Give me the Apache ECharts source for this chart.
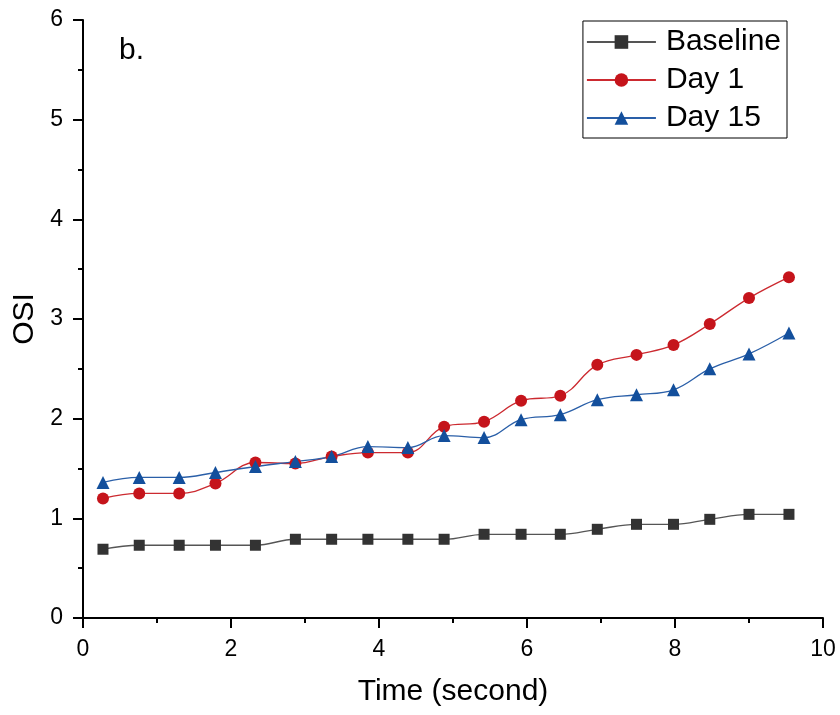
<!DOCTYPE html>
<html>
<head>
<meta charset="utf-8">
<script src="https://cdn.jsdelivr.net/npm/echarts@6/dist/echarts.min.js"></script>
<style>
  html, body { margin: 0; padding: 0; background: #fff; }
  #main { width: 840px; height: 715px; }
</style>
</head>
<body>
<div id="main"></div>
<script>
// time points (seconds), shared by all three series
var times = [0.27, 0.76, 1.30, 1.79, 2.33, 2.87, 3.36, 3.85, 4.39, 4.88,
             5.42, 5.92, 6.45, 6.95, 7.48, 7.98, 8.47, 9.00, 9.54];
var baseline = [0.69, 0.73, 0.73, 0.73, 0.73, 0.79, 0.79, 0.79, 0.79, 0.79,
                0.84, 0.84, 0.84, 0.89, 0.94, 0.94, 0.99, 1.04, 1.04];
var day1 = [1.20, 1.25, 1.25, 1.35, 1.56, 1.55, 1.62, 1.66, 1.66, 1.92,
            1.97, 2.18, 2.23, 2.54, 2.64, 2.74, 2.95, 3.21, 3.42];
var day15 = [1.36, 1.41, 1.41, 1.46, 1.52, 1.57, 1.62, 1.72, 1.71, 1.83,
             1.81, 1.99, 2.04, 2.19, 2.24, 2.29, 2.50, 2.65, 2.86];

function pairs(ys) {
  return times.map(function (t, i) { return [t, ys[i]]; });
}

var FONT = 'Liberation Sans, Arial, sans-serif';

var chartDom = document.getElementById('main');
var myChart = echarts.init(chartDom);

function axisCommon() {
  return {
    type: 'value',
    axisLine: { show: true, lineStyle: { color: '#000', width: 2 } },
    axisTick: { show: true, inside: false, length: 10, lineStyle: { color: '#000', width: 2 } },
    minorTick: { show: true, splitNumber: 2, length: 5, lineStyle: { color: '#000', width: 2 } },
    splitLine: { show: false },
    minorSplitLine: { show: false },
    nameTextStyle: { fontFamily: FONT, fontSize: 30, color: '#000' }
  };
}

var xAxis = axisCommon();
Object.assign(xAxis, {
  min: 0, max: 10, interval: 2,
  name: 'Time (second)', nameLocation: 'middle', nameGap: 59,
  axisLabel: { fontFamily: FONT, fontSize: 23, color: '#000', margin: 20 }
});

var yAxis = axisCommon();
Object.assign(yAxis, {
  min: 0, max: 6, interval: 1,
  name: 'OSI', nameLocation: 'middle', nameGap: 36,
  axisLabel: { fontFamily: FONT, fontSize: 23, color: '#000', margin: 20 }
});

function lineSeries(name, ys, color, lineColor, symbol, size) {
  return {
    name: name,
    type: 'line',
    data: pairs(ys),
    smooth: 0.4,
    symbol: symbol,
    symbolSize: size,
    itemStyle: { color: color },
    lineStyle: { color: lineColor, width: 1.3 },
    emphasis: { disabled: true }
  };
}

var option = {
  animation: false,
  backgroundColor: '#fff',
  grid: { left: 83, right: 17, top: 20, bottom: 97, containLabel: false },
  xAxis: xAxis,
  yAxis: yAxis,
  legend: {
    orient: 'vertical',
    right: 53,
    top: 21,
    padding: [6, 6, 5, 3],
    borderColor: '#000',
    borderWidth: 1,
    borderRadius: 0,
    itemWidth: 69,
    itemHeight: 17,
    itemGap: 8,
    textStyle: { fontFamily: FONT, fontSize: 30, color: '#000', lineHeight: 30, padding: [0, 0, 0, 5] },
    data: ['Baseline', 'Day 1', 'Day 15']
  },
  graphic: [{
    type: 'text',
    left: 119,
    top: 36,
    style: { text: 'b.', font: '30px ' + FONT, fill: '#000' }
  }],
  series: [
    lineSeries('Baseline', baseline, '#333333', '#555555', 'rect', 11),
    lineSeries('Day 1', day1, '#c5141b', '#cc2a30', 'circle', 12),
    lineSeries('Day 15', day15, '#134f9c', '#2a5fa8', 'triangle', 13)
  ]
};

option && myChart.setOption(option);
</script>
</body>
</html>
